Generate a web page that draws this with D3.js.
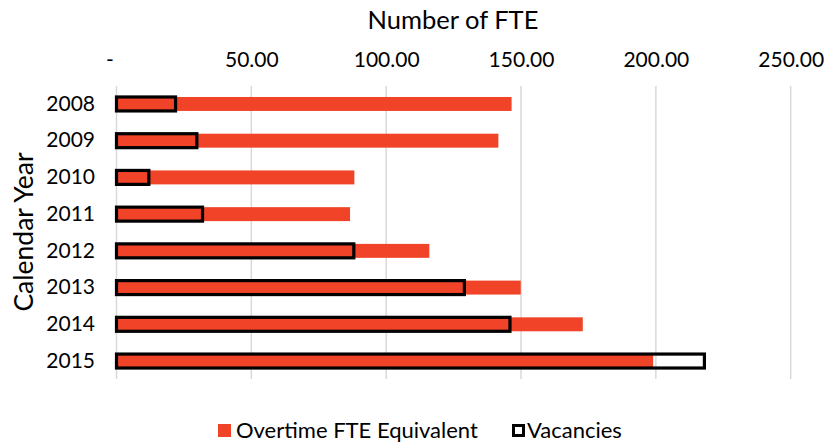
<!DOCTYPE html>
<html>
<head>
<meta charset="utf-8">
<script src="https://cdn.jsdelivr.net/npm/d3@7"></script>
<style>
  body { margin: 0; background: #fff; }
  svg { font-family: Lato, "DejaVu Sans", sans-serif; }
</style>
</head>
<body>
<div id="chart"></div>
<script>
// Data
const years = ["2008", "2009", "2010", "2011", "2012", "2013", "2014", "2015"];
const overtime = [146.5, 141.6, 88.2, 86.6, 116.0, 149.9, 172.9, 199.0];
const vacancies = [21.9, 29.8, 12.0, 31.9, 88.0, 129.0, 145.9, 218.0];
const xTicks = [0, 50, 100, 150, 200, 250];

const width = 825;
const height = 443;
const red = "#f04328";

const svg = d3.select("#chart")
  .append("svg")
    .attr("width", width)
    .attr("height", height)
    .attr("viewBox", [0, 0, width, height]);

const x = d3.scaleLinear().domain([0, 250]).range([116.5, 790.7]);
const y = d3.scaleBand()
    .domain(years)
    .range([85.6, 379.4])
    .paddingInner(0.62)
    .paddingOuter(0.31);

// Gridlines
svg.append("g")
  .selectAll("line")
  .data(xTicks)
  .join("line")
    .attr("x1", d => x(d))
    .attr("x2", d => x(d))
    .attr("y1", 86)
    .attr("y2", 379)
    .attr("stroke", "#d9d9d9")
    .attr("stroke-width", 1.5);

// Top axis
const xAxis = svg.append("g")
    .attr("transform", "translate(0,67)")
    .call(d3.axisTop(x).tickValues(xTicks)
      .tickFormat(d => d === 0 ? "-" : d3.format(".2f")(d))
      .tickSize(0).tickPadding(0));
xAxis.select(".domain").remove();
xAxis.selectAll("text")
    .attr("font-family", "Lato, sans-serif")
    .attr("font-size", 21)
    .attr("fill", "#000")
    .attr("dx", d => d === 0 ? -7 : 0);

// Left axis
const yAxis = svg.append("g")
    .attr("transform", "translate(95,0)")
    .call(d3.axisLeft(y).tickSize(0).tickPadding(0));
yAxis.select(".domain").remove();
yAxis.selectAll("text")
    .attr("font-family", "Lato, sans-serif")
    .attr("font-size", 21)
    .attr("fill", "#000");

// Overtime bars
svg.append("g")
  .selectAll("rect")
  .data(years)
  .join("rect")
    .attr("x", x(0))
    .attr("y", d => y(d))
    .attr("width", (d, i) => x(overtime[i]) - x(0))
    .attr("height", y.bandwidth())
    .attr("fill", red);

// Vacancies outlines
svg.append("g")
  .selectAll("rect")
  .data(years)
  .join("rect")
    .attr("x", x(0))
    .attr("y", d => y(d))
    .attr("width", (d, i) => x(vacancies[i]) - x(0))
    .attr("height", y.bandwidth())
    .attr("fill", "none")
    .attr("stroke", "#000")
    .attr("stroke-width", 3.2);

// Axis titles
svg.append("text")
    .attr("x", 453)
    .attr("y", 29)
    .attr("text-anchor", "middle")
    .attr("font-size", 25.5)
    .text("Number of FTE");

svg.append("text")
    .attr("transform", "translate(33,232) rotate(-90)")
    .attr("text-anchor", "middle")
    .attr("font-size", 26.5)
    .text("Calendar Year");

// Legend
const legend = svg.append("g").attr("font-size", 22);
legend.append("rect")
    .attr("x", 218).attr("y", 424).attr("width", 13).attr("height", 13)
    .attr("fill", red);
legend.append("text")
    .attr("x", 236).attr("y", 438)
    .text("Overtime FTE Equivalent");
legend.append("rect")
    .attr("x", 513.5).attr("y", 425.5).attr("width", 10).attr("height", 10)
    .attr("fill", "none").attr("stroke", "#000").attr("stroke-width", 3);
legend.append("text")
    .attr("x", 527).attr("y", 438)
    .text("Vacancies");
</script>
</body>
</html>
